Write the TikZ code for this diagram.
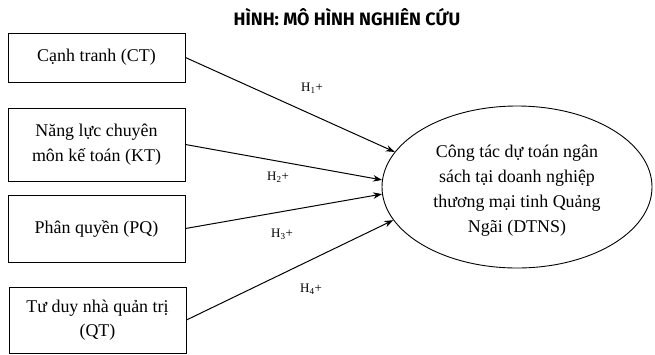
\documentclass[tikz,border=0pt]{standalone}
\usepackage{fontspec}
\setmainfont{Liberation Serif}
\newfontfamily\titlefont{Fira Sans}
\usetikzlibrary{arrows.meta,shapes.geometric}
\tikzset{
  factor/.style={draw, line width=0.9pt, minimum width=177bp, align=center,
    font=\fontsize{18}{24.5}\selectfont, inner sep=0pt},
  outcome/.style={draw, line width=0.9pt, ellipse, minimum width=270bp, minimum height=162bp,
    inner sep=0pt},
  outcometext/.style={align=center, font=\fontsize{18}{25}\selectfont, inner sep=0pt},
  link/.style={line width=1pt, -{Stealth[length=9bp,width=6.5bp]}},
  hyp/.style={font=\fontsize{13}{15}\selectfont, inner sep=0pt}
}
\begin{document}
\begin{tikzpicture}[x=1bp, y=-1bp]
  \useasboundingbox (0,0) rectangle (655,354);
  % title
  \node[font=\titlefont\bfseries\fontsize{18}{22}\selectfont] (title) at (347,17) {HÌNH: MÔ HÌNH NGHIÊN CỨU};
  % explanatory factors
  \node[factor, minimum height=49bp] (ct) at (96.5,57.5) {Cạnh tranh (CT)};
  \node[factor, minimum height=73bp] (kt) at (96.5,144.5) {Năng lực chuyên\\môn kế toán (KT)};
  \node[factor, minimum height=67bp] (pq) at (96.5,228.5) {Phân quyền (PQ)};
  \node[factor, minimum height=66bp] (qt) at (97.5,320) {Tư duy nhà quản trị\\(QT)};
  % dependent variable
  \node[outcome] (dtns) at (517,187) {};
  \node[outcometext] (dtnstext) at (517,191) {Công tác dự toán ngân\\sách tại doanh nghiệp\\thương mại tinh Quảng\\Ngãi (DTNS)};
  % hypotheses
  \draw[link] (ct.east) -- (dtns.164);
  \draw[link] (kt.east) -- (dtns.177);
  \draw[link] (pq.east) -- (dtns.183.5);
  \draw[link] (qt.east) -- (dtns.195);
  \node[hyp] (h1) at (312,88) {H\textsubscript{1}+};
  \node[hyp] (h2) at (278,177) {H\textsubscript{2}+};
  \node[hyp] (h3) at (282,234) {H\textsubscript{3}+};
  \node[hyp] (h4) at (311,289) {H\textsubscript{4}+};
\end{tikzpicture}
\end{document}
